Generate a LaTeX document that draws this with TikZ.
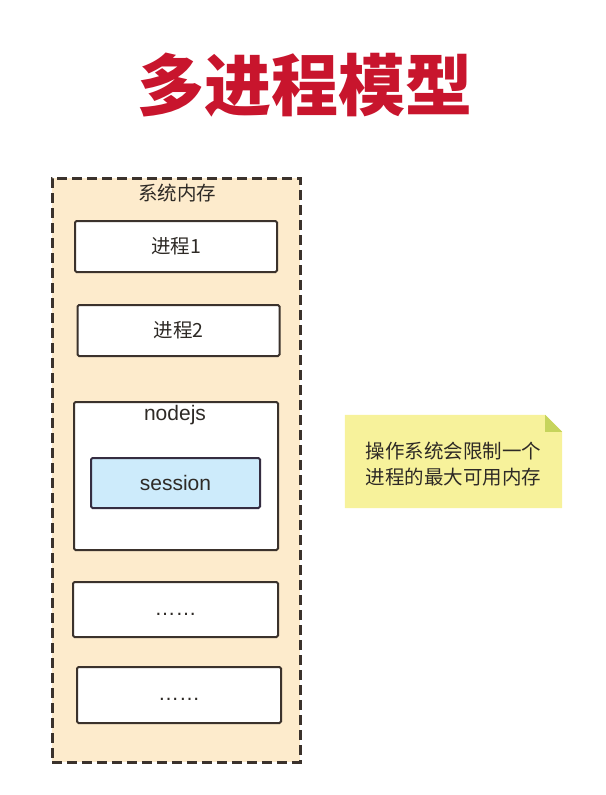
\documentclass[tikz,border=0pt]{standalone}
\usepackage{fontspec}
\setmainfont{Liberation Sans}
\newfontfamily\cjk{Noto Sans CJK SC}
\usetikzlibrary{calc}
\definecolor{titlered}{HTML}{C8152D}
\definecolor{memfill}{HTML}{FDEBCC}
\definecolor{edgegray}{HTML}{3B322C}
\definecolor{sessfill}{HTML}{CDEBFB}
\definecolor{notefill}{HTML}{F7F29B}
\definecolor{foldfill}{HTML}{C6D45C}
\definecolor{txt}{HTML}{2E2A26}

\begin{document}
\begin{tikzpicture}[x=1pt,y=-1pt,
    proc/.style={
      draw=edgegray,
      line width=2pt,
      fill=white,
      rounded corners=1.5pt,
      minimum width=202pt,
      minimum height=51pt,
      text=txt
    }]
\tikzset{mem/.style = {draw=edgegray, line width=3pt, dash pattern=on 10pt off 5pt, fill=memfill, minimum width=248pt, minimum height=584pt}}
\tikzset{cn/.style = {font=\cjk\fontsize{19.5}{26}\selectfont, text=txt}}
\tikzset{en/.style = {font=\fontsize{21}{24}\selectfont, text=txt}}
\tikzset{dots/.style = {en, text height=11pt, text depth=0pt}}
\useasboundingbox (0,0) rectangle (605,795);
\node[font=\cjk\bfseries\fontsize{67}{72}\selectfont, text=titlered] (title) at (305,85) {多进程模型};
%\draw (52,178) rectangle (300,762);
\node[mem] (mem) at (176,470) {};
\node[cn] (memlbl) at (177,193) {系统内存};
\node[proc, cn] (p1) at (176,246.5) {进程1};
\node[proc, cn] (p2) at (178.5,330.5) {进程2};
\node[proc, minimum height=148pt, minimum width=204pt] (nodejs) at (176,476) {};
\node[en] (nodejslbl) at (175,415) {nodejs};
\node[proc, en, fill=sessfill, draw=edgegray!90!blue, minimum width=169pt, minimum height=50pt] (session) at (175.5,483) {session};
\node[proc, dots, minimum width=205pt, minimum height=55pt] (more1) at (175.5,609.5) {……};
\node[proc, dots, minimum width=204pt, minimum height=56pt] (more2) at (179,695) {……};
\node[cn, align=center, minimum width=217pt, minimum height=93pt] (note) at (453.5,461.5) {};
\fill[notefill] (note.north west) -- ($(note.north east)+(-17,0)$) -- ($(note.north east)+(0,17)$) -- (note.south east) -- (note.south west) -- cycle;
\fill[foldfill] ($(note.north east)+(-17,0)$) -- ($(note.north east)+(0,17)$) -- ($(note.north east)+(-17,17)$) -- cycle;
\node[cn, align=center] (notetxt) at ($(note)+(0,3)$) {操作系统会限制一个\\进程的最大可用内存};
\end{tikzpicture}
\end{document}
